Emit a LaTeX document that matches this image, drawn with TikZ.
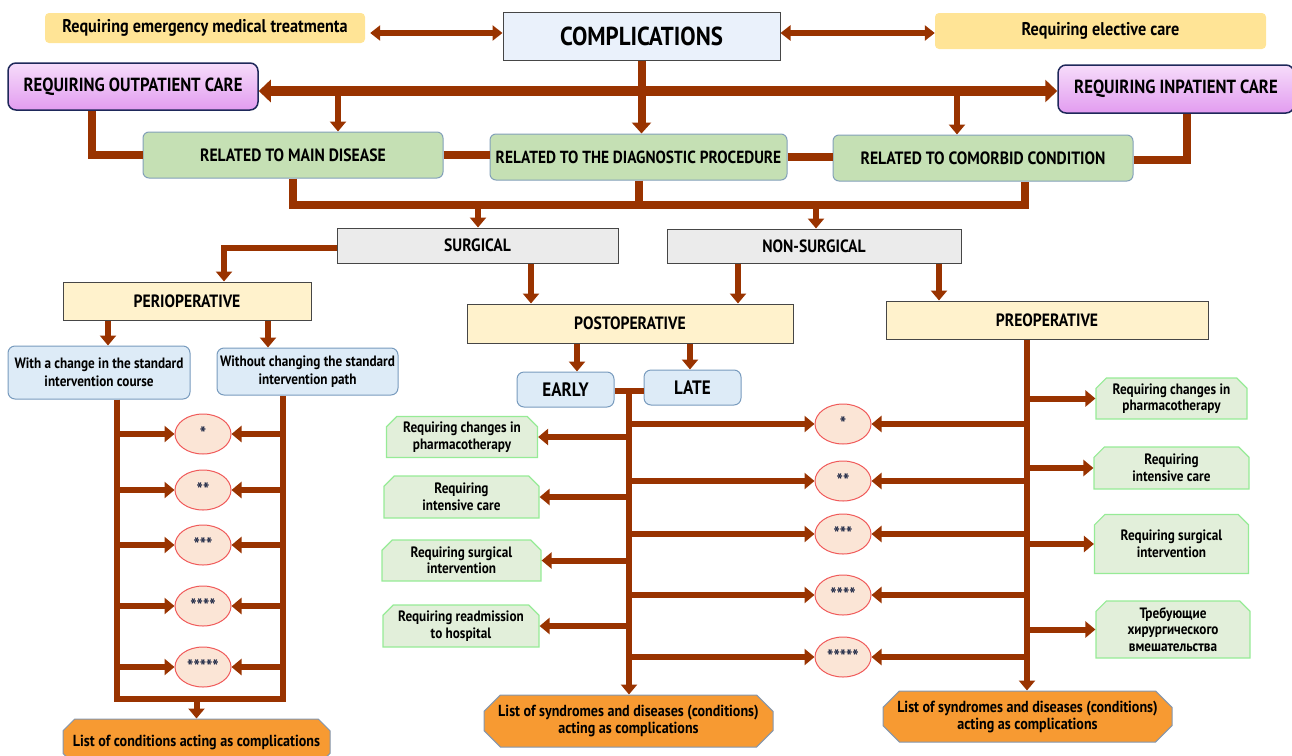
\documentclass[tikz,border=0pt]{standalone}
\usepackage{fontspec}
\setmainfont{PT Sans}[FakeStretch=0.88]
\usetikzlibrary{arrows.meta,shapes.geometric,shapes.misc,calc}
\definecolor{arrc}{RGB}{153,51,0}
\definecolor{yelc}{RGB}{255,228,150}
\definecolor{compc}{RGB}{234,241,251}
\definecolor{boxline}{RGB}{70,70,70}
\definecolor{purtop}{RGB}{246,220,250}
\definecolor{purbot}{RGB}{226,156,240}
\definecolor{navyc}{RGB}{30,40,90}
\definecolor{greenc}{RGB}{197,224,180}
\definecolor{greenline}{RGB}{130,160,185}
\definecolor{grayc}{RGB}{235,235,235}
\definecolor{lyelc}{RGB}{255,242,204}
\definecolor{lbluec}{RGB}{221,235,247}
\definecolor{blueline}{RGB}{120,155,190}
\definecolor{ellc}{RGB}{251,229,214}
\definecolor{ellline}{RGB}{240,90,90}
\definecolor{lgreenc}{RGB}{226,239,218}
\definecolor{lgreenline}{RGB}{150,235,150}
\definecolor{orangec}{RGB}{247,154,50}
\definecolor{orline}{RGB}{130,150,175}
\definecolor{starc}{RGB}{30,40,70}
\newcommand{\fsz}[2]{\fontsize{#1}{#2}\selectfont\bfseries}
\newcommand{\stars}[1]{\raisebox{-0.35ex}{\textcolor{starc}{#1}}}
\begin{document}
\begin{tikzpicture}[x=1pt,y=-1pt,
  base/.style={align=center, inner sep=1pt, text=black},
  yel/.style={base, fill=yelc, rounded corners=4pt},
  compbox/.style={base, fill=compc, draw=boxline, line width=1pt},
  purp/.style={base, draw=navyc, line width=1.5pt, rounded corners=8pt, top color=purtop, bottom color=purbot},
  relbox/.style={base, fill=greenc, draw=greenline, line width=1pt, rounded corners=6pt},
  graybox/.style={base, fill=grayc, draw=boxline, line width=1pt},
  lyelbox/.style={base, fill=lyelc, draw=boxline, line width=1pt},
  lbluebox/.style={base, fill=lbluec, draw=blueline, line width=1pt, rounded corners=7pt},
  ell/.style={base, ellipse, inner sep=0pt, fill=ellc, draw=ellline, line width=1pt, minimum width=56pt, minimum height=40pt, font=\fsz{19}{20}},
  lgbox/.style={base, chamfered rectangle, chamfered rectangle corners={north west,north east}, chamfered rectangle xsep=7pt, fill=lgreenc, draw=lgreenline, line width=1.2pt, font=\fsz{15}{16.5}},
  orbox/.style={base, chamfered rectangle, chamfered rectangle xsep=13pt, fill=orangec, draw=orline, line width=1pt, font=\fsz{16}{17}},
  conn/.style={draw=arrc, line width=6pt},
  thickconn/.style={draw=arrc, line width=8pt},
  arr/.style={conn, -{Triangle[length=10pt,width=16pt]}},
  thickarr/.style={thickconn, -{Triangle[length=11pt,width=19pt]}},
  dbl/.style={conn, {Triangle[length=10pt,width=15pt]}-{Triangle[length=10pt,width=15pt]}},
  bus/.style={draw=arrc, line width=10pt, {Triangle[length=12pt,width=22pt]}-{Triangle[length=12pt,width=22pt]}}
]
\useasboundingbox (0,0) rectangle (1292,755);
\clip (0,0) rectangle (1292,755);

% ---- top row
\node[yel, minimum width=320pt, minimum height=30pt, font=\fsz{18.4}{20}] (emerg) at (205,28) {Requiring emergency medical treatmenta};
\node[compbox, minimum width=277pt, minimum height=48pt, font=\fsz{26}{28}] (comp) at (641.5,36) {COMPLICATIONS};
\node[yel, minimum width=331pt, minimum height=36pt, font=\fsz{18.4}{20}] (elect) at (1100.5,31) {Requiring elective care};

% ---- care row
\node[purp, minimum width=250pt, minimum height=47pt, font=\fsz{19}{21}] (outp) at (133,86.5) {REQUIRING OUTPATIENT CARE};
\node[purp, minimum width=236pt, minimum height=48pt, font=\fsz{19}{21}] (inp) at (1176,89) {REQUIRING INPATIENT CARE};

% ---- related row
\node[relbox, minimum width=300pt, minimum height=46pt, font=\fsz{17.8}{20}] (main) at (293,155) {RELATED TO MAIN DISEASE};
\node[relbox, minimum width=297pt, minimum height=46pt, font=\fsz{17.5}{20}] (diag) at (638.5,157) {RELATED TO THE DIAGNOSTIC PROCEDURE};
\node[relbox, minimum width=300pt, minimum height=46pt, font=\fsz{17.8}{20}] (comor) at (983,158) {RELATED TO COMORBID CONDITION};

% ---- surgical row
\node[graybox, minimum width=281pt, minimum height=35pt, font=\fsz{17.8}{20}] (surg) at (477.5,245.5) {SURGICAL};
\node[graybox, minimum width=294pt, minimum height=34pt, font=\fsz{17.8}{20}] (nons) at (814,246) {NON-SURGICAL};

% ---- periods
\node[lyelbox, minimum width=248pt, minimum height=38pt, font=\fsz{17.8}{20}] (peri) at (187,301) {PERIOPERATIVE};
\node[lyelbox, minimum width=326pt, minimum height=39pt, font=\fsz{17.8}{20}] (post) at (630,323.5) {POSTOPERATIVE};
\node[lyelbox, minimum width=322pt, minimum height=38pt, font=\fsz{17.8}{20}] (pre) at (1047,320) {PREOPERATIVE};

% ---- perioperative sub
\node[lbluebox, minimum width=182pt, minimum height=53pt, font=\fsz{15}{18.5}] (withc) at (99,372.5) {With a change in the standard\\intervention course};
\node[lbluebox, minimum width=181pt, minimum height=47pt, font=\fsz{15}{18.5}] (without) at (307.5,371.5) {Without changing the standard\\intervention path};

% ---- early / late
\node[lbluebox, minimum width=97pt, minimum height=35pt, font=\fsz{19.4}{21}] (early) at (565.5,389.5) {EARLY};
\node[lbluebox, minimum width=97pt, minimum height=35pt, font=\fsz{19.4}{21}] (late) at (692.5,387.5) {LATE};

% ---- left ellipses
\node[ell] (le1) at (203,434) {\stars{*}};
\node[ell] (le2) at (203,490) {\stars{**}};
\node[ell] (le3) at (203,545) {\stars{***}};
\node[ell] (le4) at (203,606) {\stars{****}};
\node[ell] (le5) at (203,667) {\stars{*****}};

% ---- middle ellipses
\node[ell] (me1) at (843,424) {\stars{*}};
\node[ell] (me2) at (843,481) {\stars{**}};
\node[ell] (me3) at (843,534) {\stars{***}};
\node[ell] (me4) at (843,595) {\stars{****}};
\node[ell] (me5) at (843,657) {\stars{*****}};

% ---- left green boxes
\node[lgbox, minimum width=151pt, minimum height=41pt] (lg1) at (462,437) {Requiring changes in\\pharmacotherapy};
\node[lgbox, minimum width=155pt, minimum height=42pt] (lg2) at (461.5,497) {Requiring\\intensive care};
\node[lgbox, minimum width=159pt, minimum height=41pt] (lg3) at (461.5,560.5) {Requiring surgical\\intervention};
\node[lgbox, minimum width=156pt, minimum height=42pt] (lg4) at (461,626) {Requiring readmission\\to hospital};

% ---- right green boxes
\node[lgbox, minimum width=151pt, minimum height=41pt] (rg1) at (1171.5,398.5) {Requiring changes in\\pharmacotherapy};
\node[lgbox, minimum width=155pt, minimum height=42pt] (rg2) at (1171.5,468) {Requiring\\intensive care};
\node[lgbox, minimum width=154pt, minimum height=59pt] (rg3) at (1171.5,544) {Requiring surgical\\intervention};
\node[lgbox, minimum width=154pt, minimum height=57pt] (rg4) at (1173,629.5) {Требующие\\хирургического\\вмешательства};

% ---- orange boxes
\node[orbox, minimum width=267pt, minimum height=46pt] (lor) at (196.5,742) {List of conditions acting as complications};
\node[orbox, minimum width=289pt, minimum height=52pt] (mor) at (628.5,721) {List of syndromes and diseases (conditions)\\acting as complications};
\node[orbox, minimum width=289pt, minimum height=51pt] (ror) at (1027.5,716.5) {List of syndromes and diseases (conditions)\\acting as complications};

% ================= connectors
\coordinate (ytop) at (0,33);
\draw[dbl] ([xshift=5pt]emerg.east |- ytop) -- (comp.west |- ytop);
\draw[dbl] (comp.east |- ytop) -- (elect.west |- ytop);

% bus
\coordinate (busy) at (0,91);
\draw[thickarr] (comp.south) -- (comp.south |- diag.north);
\draw[bus] (outp.east |- busy) -- (inp.west |- busy);
\coordinate (b1) at (338,91);
\coordinate (b2) at (957,91);
\draw[arr] (b1) -- (b1 |- main.north);
\draw[arr] (b2) -- (b2 |- comor.north);

% side links
\draw[thickconn] ([xshift=-41pt]outp.south) |- (main.west);
\draw[thickconn] (main.east) -- (main.east -| diag.west);
\draw[thickconn] (diag.east) -- (diag.east -| comor.west);
\draw[thickconn] ([yshift=-2pt]comor.east) -| ([xshift=11pt]inp.south);

% bottom bus
\coordinate (bb) at (0,205);
\coordinate (cm) at ([xshift=42pt]comor.south);
\draw[thickconn, line join=miter] (main.south) -- (main.south |- bb) -- (cm |- bb) -- (cm);
\draw[thickconn] (diag.south) -- (diag.south |- bb);
\coordinate (sa) at (478,205);
\coordinate (na) at (816,205);
\draw[arr] (sa) -- (sa |- surg.north);
\draw[arr] (na) -- (na |- nons.north);

% surgical / non-surgical
\draw[arr, line join=miter] ([yshift=-2pt]surg.west) -| ([xshift=37pt]peri.north);
\coordinate (s1) at ([xshift=53.5pt]surg.south);
\draw[arr] (s1) -- (s1 |- post.north);
\coordinate (n1) at ([xshift=-76pt]nons.south);
\draw[arr] (n1) -- (n1 |- post.north);
\coordinate (n2) at ([xshift=125pt]nons.south);
\draw[arr] (n2) -- (n2 |- pre.north);

% perioperative
\coordinate (p1) at ([xshift=-79pt]peri.south);
\coordinate (p2) at ([xshift=81pt]peri.south);
\draw[arr] (p1) -- (p1 |- withc.north);
\draw[arr] (p2) -- (p2 |- without.north);

\coordinate (ll) at ([xshift=18pt]withc.south);
\coordinate (lr) at ([xshift=-25pt]without.south);
\coordinate (lb) at (0,699);
\draw[conn, line join=miter] (ll) -- (ll |- lb) -- (lr |- lb) -- (lr);
\draw[arr] (lor.north |- lb) -- (lor.north);
\foreach \e in {le1,le2,le3,le4,le5}{
  \draw[arr] (ll |- \e.west) -- (\e.west);
  \draw[arr] (lr |- \e.east) -- (\e.east);
}

% postoperative
\coordinate (q1) at ([xshift=-53pt]post.south);
\coordinate (q2) at ([xshift=60pt]post.south);
\draw[arr] (q1) -- (q1 |- early.north);
\draw[arr] (q2) -- (q2 |- late.north);
\coordinate (ej) at ($(early.east)!0.5!(late.west)$);
\draw[conn] ([yshift=-1pt]early.east) -- ([yshift=-1pt]early.east -| late.west);
\draw[arr] (ej) -- (ej |- mor.north);
\foreach \g in {lg1,lg2,lg3,lg4}{
  \draw[arr] (ej |- \g.east) -- (\g.east);
}
\foreach \e in {me1,me2,me3,me4,me5}{
  \draw[arr] (ej |- \e.west) -- (\e.west);
}

% preoperative
\coordinate (pj) at ([xshift=-20pt]pre.south);
\draw[arr] (pj) -- (pj |- ror.north);
\foreach \e in {me1,me2,me3,me4,me5}{
  \draw[arr] (pj |- \e.east) -- (\e.east);
}
\foreach \g in {rg1,rg2,rg3,rg4}{
  \draw[arr] (pj |- \g.west) -- (\g.west);
}
\end{tikzpicture}
\end{document}
